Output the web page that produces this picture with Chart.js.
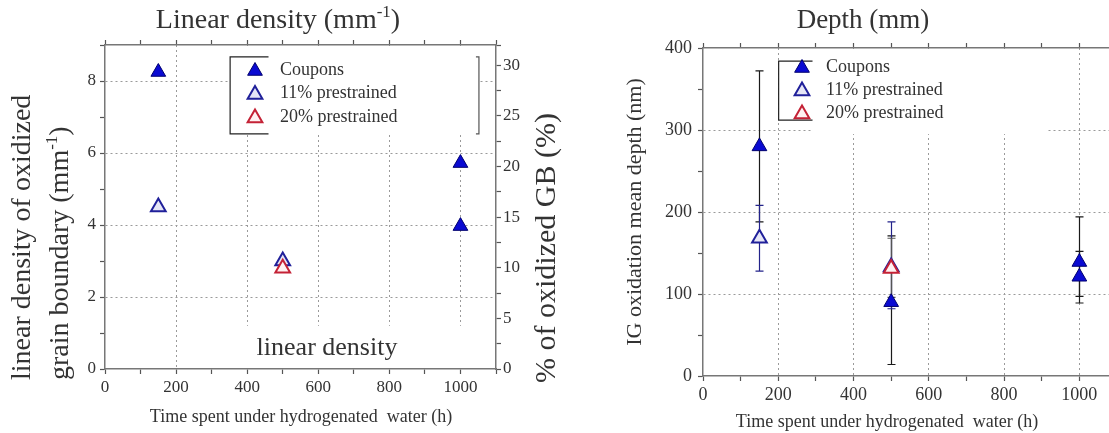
<!DOCTYPE html>
<html>
<head>
<meta charset="utf-8">
<script src="https://cdn.jsdelivr.net/npm/chart.js@4.4.1/dist/chart.umd.min.js"></script>
<style>
  html, body { margin: 0; padding: 0; background: #fff; overflow: hidden; width: 1109px; height: 433px; position: relative; }
  #left { position: absolute; left: 0; top: 0; }
  #right { position: absolute; left: 580px; top: 0; }
</style>
</head>
<body>
<canvas id="left" width="565" height="433"></canvas>
<canvas id="right" width="540" height="433"></canvas>
<script>
// ---- data ----
const seriesNames = ['Coupons', '11% prestrained', '20% prestrained'];

// linear density (mm-1) vs time (h)
const couponsTime = [150, 1000, 1000];
const couponsDensity = [8.25, 5.72, 3.97];
const pre11Time = [150, 500];
const pre11Density = [4.5, 3.0];
const pre20Time = [500];
const pre20Density = [2.8];

// IG oxidation mean depth (nm) vs time (h), with error bar ends
const couponsDepthTime = [150, 500, 1000, 1000];
const couponsDepth = [280, 90, 139, 121];
const couponsDepthLow = [188, 14, 89, 97];
const couponsDepthHigh = [372, 171, 194, 152];
const pre11DepthTime = [150, 500];
const pre11Depth = [168, 133];
const pre11DepthLow = [128, 82];
const pre11DepthHigh = [208, 188];
const pre20DepthTime = [500];
const pre20Depth = [131];
const pre20DepthLow = [96];
const pre20DepthHigh = [168];

// axis ranges / ticks
const timeMax = 1100, timeStep = 100, timeMajor = 200;
const densityMax = 9, densityStep = 1, densityMajor = 2;
const percentMax = 32, percentStep = 2.5, percentMajor = 5;
const depthMax = 400, depthStep = 50, depthMajor = 100;

// ---- styles ----
const FONT = "'Liberation Serif', 'Times New Roman', serif";
const TXT = '#333';
const GRID = '#9a9a9a';
const AXIS = '#777';
Chart.defaults.font.family = FONT;
Chart.defaults.color = TXT;

const styles = [
  { backgroundColor: '#0a0ad2', borderColor: '#00006e', borderWidth: 1, errColor: '#1a1a1a', order: 0 },
  { backgroundColor: '#e6e6f6', borderColor: '#20209a', borderWidth: 2, errColor: '#23238a', order: 2 },
  { backgroundColor: '#fff2f2', borderColor: '#c42236', borderWidth: 2, errColor: '#555', order: 1 }
];

const pts = (xs, ys) => xs.map((x, i) => ({ x: x, y: ys[i] }));

function makeDataset(i, data, low, high) {
  const s = styles[i];
  return {
    label: seriesNames[i],
    data: data,
    order: s.order,
    pointStyle: 'triangle',
    pointRadius: 8.5,
    pointHoverRadius: 8.5,
    backgroundColor: s.backgroundColor,
    borderColor: s.borderColor,
    borderWidth: s.borderWidth,
    errLow: low,
    errHigh: high,
    errColor: s.errColor,
    clip: false
  };
}

const isMult = (v, m) => Math.abs(v / m - Math.round(v / m)) < 1e-6;
function gridColor(major, max) {
  return c => {
    const v = c.tick ? c.tick.value : -1;
    return (v > 0 && v < max && isMult(v, major)) ? GRID : 'rgba(0,0,0,0)';
  };
}
function tickCb(major) {
  return v => isMult(v, major) ? v : '';
}

function valueAxis(pos, max, step, major, width, fontSize, pad, onArea) {
  return {
    type: 'linear', position: pos, min: 0, max: max,
    afterFit: s => { s.width = width; },
    ticks: { stepSize: step, autoSkip: false, padding: pad, font: { size: fontSize, family: FONT }, color: TXT, callback: tickCb(major) },
    grid: { drawOnChartArea: onArea, color: gridColor(major, max), lineWidth: 1, tickLength: 5, tickColor: '#555', tickWidth: 1.2 },
    border: { color: AXIS, width: 1.5, dash: [2, 3] }
  };
}
function timeAxis(height, fontSize, pad) {
  return {
    type: 'linear', position: 'bottom', min: 0, max: timeMax,
    afterFit: s => { s.height = height; },
    ticks: { stepSize: timeStep, autoSkip: false, maxRotation: 0, padding: pad, font: { size: fontSize, family: FONT }, color: TXT, callback: tickCb(timeMajor) },
    grid: { color: gridColor(timeMajor, timeMax), lineWidth: 1, tickLength: 5, tickColor: '#555', tickWidth: 1.2 },
    border: { color: AXIS, width: 1.5, dash: [2, 3] }
  };
}
function topAxis() {
  return {
    type: 'linear', position: 'top', min: 0, max: timeMax,
    afterFit: s => { s.height = 0; },
    ticks: { display: false, stepSize: timeStep },
    grid: { drawOnChartArea: false, tickLength: 5, tickColor: '#555', tickWidth: 1.2 },
    border: { color: AXIS, width: 1.5 }
  };
}

// text with optional superscript written as ^{..}
function drawText(ctx, t) {
  const segs = [];
  t.text.split(/(\^\{[^}]*\})/).forEach(p => {
    if (!p) return;
    if (p.startsWith('^{')) segs.push({ s: p.slice(2, -1), sup: true });
    else segs.push({ s: p, sup: false });
  });
  const big = t.size + 'px ' + FONT, small = Math.round(t.size * 0.62) + 'px ' + FONT;
  ctx.save();
  ctx.translate(t.x, t.y);
  if (t.rot) ctx.rotate(t.rot);
  ctx.fillStyle = TXT;
  ctx.textAlign = 'left';
  ctx.textBaseline = 'middle';
  let total = 0;
  segs.forEach(g => { ctx.font = g.sup ? small : big; g.w = ctx.measureText(g.s).width; total += g.w; });
  let x = t.align === 'left' ? 0 : -total / 2;
  segs.forEach(g => {
    ctx.font = g.sup ? small : big;
    ctx.fillText(g.s, x, g.sup ? -t.size * 0.3 : 0);
    x += g.w;
  });
  ctx.restore();
}

// white patches, error bars, legend, brackets and free texts
function decor(opts) {
  return {
    id: 'decor',
    beforeDatasetsDraw(chart) {
      const ctx = chart.ctx, xs = chart.scales.x, ys = chart.scales.y, a = chart.chartArea;
      ctx.save();
      ctx.fillStyle = '#fff';
      opts.blanks.forEach(b => {
        const x1 = Math.max(xs.getPixelForValue(b.x1), a.left + 1);
        const x2 = Math.min(xs.getPixelForValue(b.x2), a.right - 1);
        const yTop = Math.max(ys.getPixelForValue(b.y2), a.top + 1);
        const yBot = Math.min(ys.getPixelForValue(b.y1), a.bottom - 1);
        ctx.fillRect(x1, yTop, x2 - x1, yBot - yTop);
      });
      chart.data.datasets.forEach(ds => {
        if (!ds.errLow) return;
        ctx.strokeStyle = ds.errColor;
        ctx.lineWidth = 1.2;
        ds.data.forEach((p, i) => {
          const x = Math.round(xs.getPixelForValue(p.x)) + 0.5;
          const yl = ys.getPixelForValue(ds.errLow[i]);
          const yh = ys.getPixelForValue(ds.errHigh[i]);
          ctx.beginPath();
          ctx.moveTo(x, yl); ctx.lineTo(x, yh);
          ctx.moveTo(x - 4, yl); ctx.lineTo(x + 4, yl);
          ctx.moveTo(x - 4, yh); ctx.lineTo(x + 4, yh);
          ctx.stroke();
        });
      });
      ctx.restore();
    },
    afterDraw(chart) {
      const ctx = chart.ctx, xs = chart.scales.x, ys = chart.scales.y, a = chart.chartArea;
      ctx.save();
      // legend bracket
      const br = opts.bracket;
      const bx = xs.getPixelForValue(br.x1), bs = xs.getPixelForValue(br.stub);
      const by1 = ys.getPixelForValue(br.y2), by2 = ys.getPixelForValue(br.y1);
      ctx.strokeStyle = '#222';
      ctx.lineWidth = 1.2;
      ctx.beginPath();
      ctx.moveTo(bs, by1); ctx.lineTo(bx, by1); ctx.lineTo(bx, by2); ctx.lineTo(bs, by2);
      ctx.stroke();
      if (br.x2 != null) {
        const rx = xs.getPixelForValue(br.x2);
        ctx.strokeStyle = '#555';
        ctx.beginPath();
        ctx.moveTo(rx - 3, by1); ctx.lineTo(rx, by1); ctx.lineTo(rx, by2); ctx.lineTo(rx - 3, by2);
        ctx.stroke();
      }
      // legend entries
      const lg = opts.legend;
      chart.data.datasets.forEach((ds, i) => {
        const x = a.left + lg.x, y = a.top + lg.y + i * lg.gap;
        ctx.fillStyle = ds.backgroundColor;
        ctx.strokeStyle = ds.borderColor;
        ctx.lineWidth = ds.borderWidth;
        Chart.helpers.drawPoint(ctx, { pointStyle: 'triangle', radius: 8.5, rotation: 0, borderWidth: ds.borderWidth }, x, y + 1);
        drawText(ctx, { text: ds.label, x: x + lg.textDx, y: y, size: lg.size, align: 'left' });
      });
      opts.texts.forEach(t => drawText(ctx, t));
      ctx.restore();
    }
  };
}

// ---- left chart: linear density ----
new Chart(document.getElementById('left'), {
  type: 'scatter',
  data: {
    datasets: [
      makeDataset(0, pts(couponsTime, couponsDensity)),
      makeDataset(1, pts(pre11Time, pre11Density)),
      makeDataset(2, pts(pre20Time, pre20Density))
    ]
  },
  options: {
    responsive: false,
    animation: false,
    events: [],
    layout: { autoPadding: false, padding: { top: 45, left: 0, right: 0, bottom: 0 } },
    plugins: { legend: { display: false }, tooltip: { enabled: false }, title: { display: false } },
    scales: {
      x: timeAxis(64, 17, 3),
      xTop: topAxis(),
      y: valueAxis('left', densityMax, densityStep, densityMajor, 105, 17, 4, true),
      y2: valueAxis('right', percentMax, percentStep, percentMajor, 69, 17, 2, false)
    }
  },
  plugins: [decor({
    blanks: [
      { x1: 352, x2: 1052, y1: 6.53, y2: densityMax },
      { x1: 225, x2: timeMax, y1: 0, y2: 1.2 }
    ],
    bracket: { x1: 352, stub: 460, x2: 1052, y1: 6.53, y2: 8.67 },
    legend: { x: 150, y: 25, gap: 23.5, textDx: 25, size: 18 },
    texts: [
      { text: 'Linear density (mm^{-1})', x: 278, y: 21, size: 28 },
      { text: 'linear density of oxidized', x: 23, y: 380, size: 28, rot: -Math.PI / 2, align: 'left' },
      { text: 'grain boundary (mm^{-1})', x: 61, y: 380, size: 28, rot: -Math.PI / 2, align: 'left' },
      { text: '% of oxidized GB (%)', x: 547, y: 248, size: 30, rot: -Math.PI / 2 },
      { text: 'linear density', x: 327, y: 348, size: 26 },
      { text: 'Time spent under hydrogenated  water (h)', x: 301, y: 417, size: 18 }
    ]
  })]
});

// ---- right chart: depth ----
new Chart(document.getElementById('right'), {
  type: 'scatter',
  data: {
    datasets: [
      makeDataset(0, pts(couponsDepthTime, couponsDepth), couponsDepthLow, couponsDepthHigh),
      makeDataset(1, pts(pre11DepthTime, pre11Depth), pre11DepthLow, pre11DepthHigh),
      makeDataset(2, pts(pre20DepthTime, pre20Depth), pre20DepthLow, pre20DepthHigh)
    ]
  },
  options: {
    responsive: false,
    animation: false,
    events: [],
    layout: { autoPadding: false, padding: { top: 48, left: 0, right: 2, bottom: 0 } },
    plugins: { legend: { display: false }, tooltip: { enabled: false }, title: { display: false } },
    scales: {
      x: timeAxis(57, 18, 3),
      xTop: topAxis(),
      y: valueAxis('left', depthMax, depthStep, depthMajor, 123, 18, 6, true)
    }
  },
  plugins: [decor({
    blanks: [
      { x1: 291, x2: 914, y1: 295, y2: depthMax }
    ],
    bracket: { x1: 201, stub: 291, y1: 312, y2: 384 },
    legend: { x: 99, y: 19, gap: 23, textDx: 24, size: 18 },
    texts: [
      { text: 'Depth (mm)', x: 283, y: 21, size: 27 },
      { text: 'IG oxidation mean depth (nm)', x: 55, y: 212, size: 22, rot: -Math.PI / 2 },
      { text: 'Time spent under hydrogenated  water (h)', x: 307, y: 422, size: 18 }
    ]
  })]
});
</script>
</body>
</html>
